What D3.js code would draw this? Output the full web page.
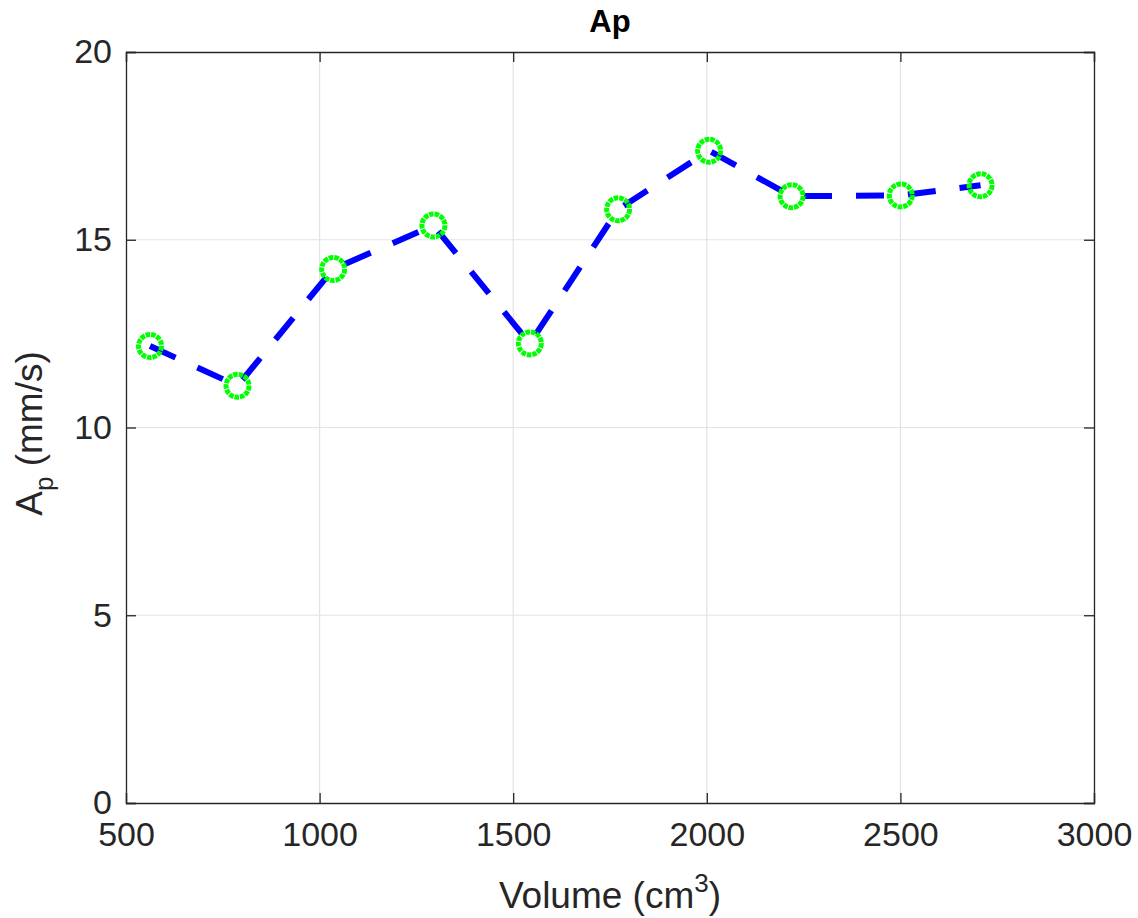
<!DOCTYPE html>
<html>
<head>
<meta charset="utf-8">
<script src="https://cdn.jsdelivr.net/npm/d3@7"></script>
<style>
  body { margin: 0; background: #fff; }
  text { font-family: "Liberation Sans", Arial, sans-serif; }
</style>
</head>
<body>
<script>
// Data
var volume = [562, 788, 1035, 1294, 1543, 1771, 2006, 2219, 2501, 2707];
var ap = [12.17, 11.11, 14.22, 15.38, 12.24, 15.81, 17.37, 16.16, 16.18, 16.45];
var xTicks = [500, 1000, 1500, 2000, 2500, 3000];
var yTicks = [0, 5, 10, 15, 20];

var width = 1138,
    height = 918;
var margin = {left: 126, right: 44, top: 52, bottom: 115};

var x = d3.scaleLinear()
    .domain([500, 3000])
    .range([margin.left, width - margin.right]);

var y = d3.scaleLinear()
    .domain([0, 20])
    .range([height - margin.bottom, margin.top]);

var svg = d3.select("body")
    .append("svg")
    .attr("width", width)
    .attr("height", height);

var axisColor = "#262626";

// grid
svg.append("g")
    .selectAll("line")
    .data(xTicks.slice(1, -1))
    .enter()
    .append("line")
    .attr("x1", d => x(d)).attr("x2", d => x(d))
    .attr("y1", y(0)).attr("y2", y(20))
    .attr("stroke", "#e3e3e3")
    .attr("stroke-width", 1.2);

svg.append("g")
    .selectAll("line")
    .data(yTicks.slice(1, -1))
    .enter()
    .append("line")
    .attr("x1", x(500)).attr("x2", x(3000))
    .attr("y1", d => y(d)).attr("y2", d => y(d))
    .attr("stroke", "#e3e3e3")
    .attr("stroke-width", 1.2);

// axes, ticks inward, box on
var tickLen = 10;
var xAxis = d3.axisBottom(x).tickValues(xTicks).tickSize(-tickLen).tickPadding(19).tickFormat(d3.format("d"));
var yAxis = d3.axisLeft(y).tickValues(yTicks).tickSize(-tickLen).tickPadding(14).tickFormat(d3.format("d"));
var xAxisTop = d3.axisTop(x).tickValues(xTicks).tickSize(-tickLen).tickFormat("");
var yAxisRight = d3.axisRight(y).tickValues(yTicks).tickSize(-tickLen).tickFormat("");

function styleAxis(g) {
    g.select(".domain").attr("stroke", axisColor).attr("stroke-width", 1.3);
    g.selectAll(".tick line").attr("stroke", axisColor).attr("stroke-width", 1.3);
    g.selectAll(".tick text")
        .attr("fill", axisColor)
        .style("font-size", "34px")
        .style("font-family", "'Liberation Sans', Arial, sans-serif");
}

svg.append("g")
    .attr("transform", "translate(0," + y(0) + ")")
    .call(xAxis)
    .call(styleAxis);

svg.append("g")
    .attr("transform", "translate(" + x(500) + ",0)")
    .call(yAxis)
    .call(styleAxis);

svg.append("g")
    .attr("transform", "translate(0," + y(20) + ")")
    .call(xAxisTop)
    .call(styleAxis);

svg.append("g")
    .attr("transform", "translate(" + x(3000) + ",0)")
    .call(yAxisRight)
    .call(styleAxis);

// data line
var line = d3.line()
    .x((d, i) => x(volume[i]))
    .y(d => y(d));

svg.append("path")
    .datum(ap)
    .attr("d", line)
    .attr("fill", "none")
    .attr("stroke", "#0000ff")
    .attr("stroke-width", 6)
    .attr("stroke-dasharray", "28,24");

// markers
svg.append("g")
    .selectAll("circle")
    .data(ap)
    .enter()
    .append("circle")
    .attr("cx", (d, i) => x(volume[i]))
    .attr("cy", d => y(d))
    .attr("r", 11.5)
    .attr("fill", "none")
    .attr("stroke", "#00ff00")
    .attr("stroke-width", 5)
    .attr("stroke-dasharray", "4.5,1");

// title
svg.append("text")
    .attr("x", (x(500) + x(3000)) / 2)
    .attr("y", 32)
    .attr("text-anchor", "middle")
    .attr("font-size", "31px")
    .attr("font-weight", "bold")
    .attr("fill", "#000")
    .text("Ap");

// x label
var xl = svg.append("text")
    .attr("x", (x(500) + x(3000)) / 2)
    .attr("y", 908)
    .attr("text-anchor", "middle")
    .attr("font-size", "37px")
    .attr("fill", axisColor);
xl.append("tspan").text("Volume (cm");
xl.append("tspan").attr("dy", -16).attr("font-size", "26px").text("3");
xl.append("tspan").attr("dy", 16).text(")");

// y label
var yl = svg.append("text")
    .attr("transform", "translate(42," + (y(10) + 6) + ") rotate(-90)")
    .attr("text-anchor", "middle")
    .attr("font-size", "37px")
    .attr("fill", axisColor);
yl.append("tspan").text("A");
yl.append("tspan").attr("dy", 11).attr("font-size", "26px").text("p");
yl.append("tspan").attr("dy", -11).text(" (mm/s)");
</script>
</body>
</html>
